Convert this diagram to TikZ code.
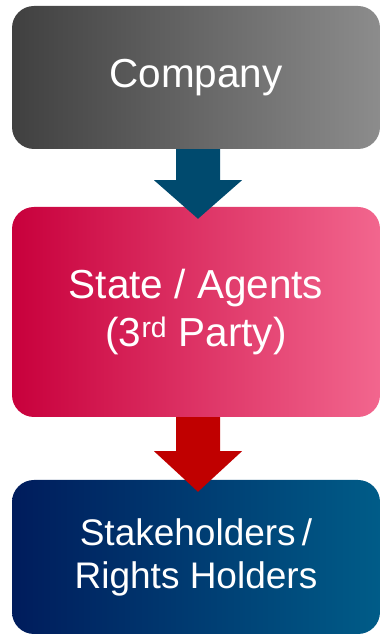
\documentclass[tikz,border=0pt]{standalone}
\usepackage{fontspec}
\setmainfont{Liberation Sans}
\usetikzlibrary{calc}
\definecolor{grayL}{HTML}{404040}
\definecolor{grayR}{HTML}{8C8C8C}
\definecolor{pinkL}{HTML}{C8003C}
\definecolor{pinkR}{HTML}{F2668E}
\definecolor{navyL}{HTML}{001C5C}
\definecolor{navyR}{HTML}{005C88}
\definecolor{arrowBlue}{HTML}{004A6E}
\definecolor{arrowRed}{HTML}{C00000}
\begin{document}
\begin{tikzpicture}[x=1pt,y=1pt,
  box/.style={rounded corners=22pt, inner sep=0pt, text=white, align=center,
              minimum width=368pt, draw=none},
  bigtext/.style={font=\fontsize{40.5}{48}\selectfont},
  smalltext/.style={font=\fontsize{37}{43}\selectfont}]
\useasboundingbox (0,0) rectangle (380,636);

% the three stages
\node[box, bigtext, left color=grayL, right color=grayR, minimum height=143pt]
  (company) at (196,558.5) {Company};
\node[box, bigtext, left color=pinkL, right color=pinkR, minimum height=210pt]
  (state) at (196,324) {\raisebox{-3pt}{\parbox{300pt}{\centering State / Agents\\(3\textsuperscript{rd} Party)}}};
\node[box, smalltext, left color=navyL, right color=navyR, minimum height=154pt]
  (holders) at (196,79) {\raisebox{-6pt}{\parbox{300pt}{\centering Stakeholders\,/\\Rights Holders}}};

% block arrows between the stages
\fill[arrowBlue]
  ($(company.south)+(-20,0)$) -- ($(company.south)+(-20,-31)$) --
  ($(company.south)+(-42,-31)$) -- ($(state.north)+(2,-12)$) --
  ($(company.south)+(46,-31)$) -- ($(company.south)+(24,-31)$) --
  ($(company.south)+(24,0)$) -- cycle;
\fill[arrowRed]
  ($(state.south)+(-20,0)$) -- ($(state.south)+(-20,-34)$) --
  ($(state.south)+(-42,-34)$) -- ($(holders.north)+(2,-12)$) --
  ($(state.south)+(46,-34)$) -- ($(state.south)+(24,-34)$) --
  ($(state.south)+(24,0)$) -- cycle;
\end{tikzpicture}
\end{document}
